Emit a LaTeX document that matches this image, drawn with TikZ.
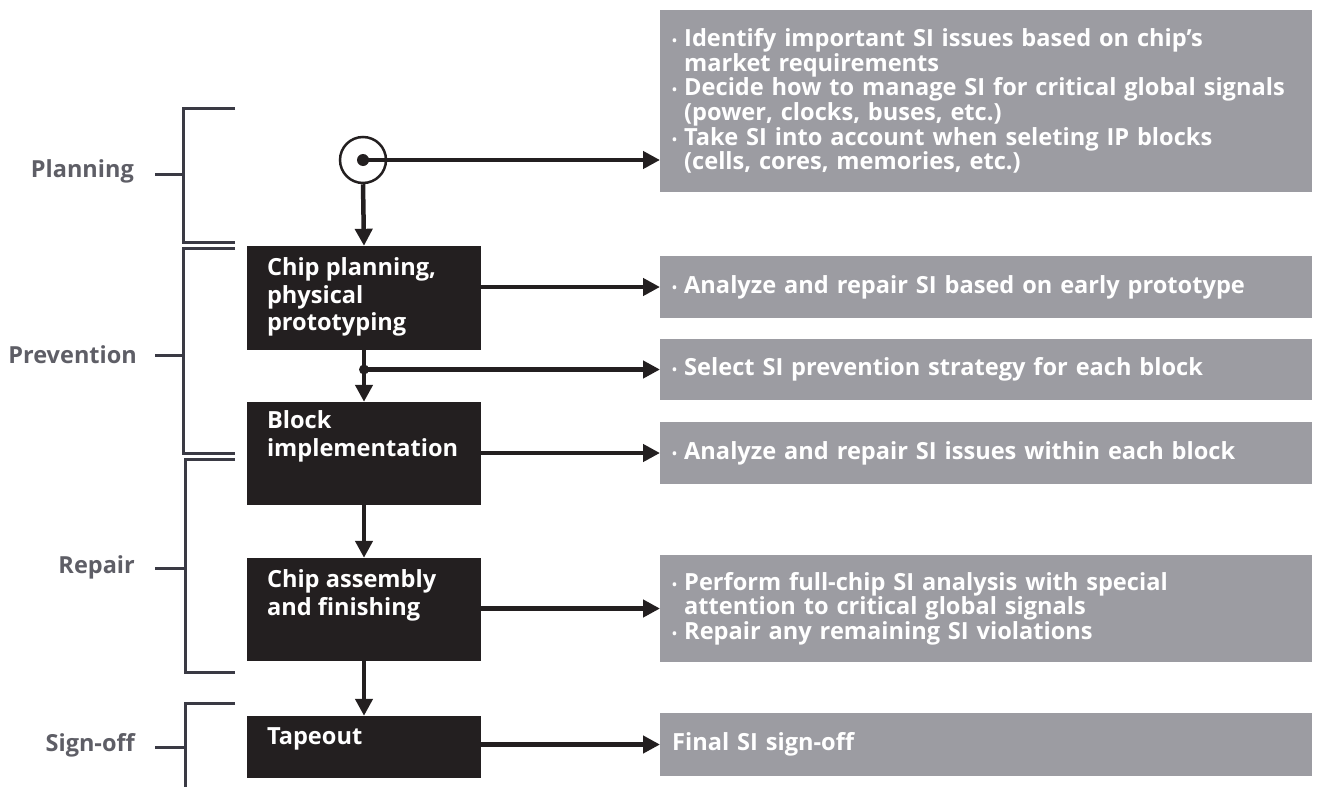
\documentclass[tikz,border=0pt]{standalone}
\usepackage{fontspec}
\setmainfont{Open Sans}
\usetikzlibrary{arrows.meta,calc}
\definecolor{boxgray}{HTML}{9C9CA2}
\definecolor{boxblack}{HTML}{231F20}
\definecolor{labgray}{HTML}{5E5E66}
\definecolor{linedark}{HTML}{3A3A44}
\newcommand\bul{\makebox[12pt][l]{\fontsize{13}{13}\selectfont\raisebox{1pt}{•}}}
\newcommand\ind{\hspace*{12pt}}
\tikzset{
  graybox/.style={fill=boxgray, draw=none, minimum width=652pt, inner xsep=12pt,
    text width=628pt, align=left, text=white, font=\fontsize{23.6}{24.6}\selectfont\bfseries, anchor=west},
  blackbox/.style={fill=boxblack, draw=none, minimum width=234pt, inner sep=0pt},
  blacktext/.style={text=white, font=\fontsize{23.6}{27.5}\selectfont\bfseries, align=left, anchor=north west, inner sep=0pt},
  arr/.style={draw=boxblack, line width=4.5pt, -{Triangle[length=17pt,width=17pt]}},
  bracketline/.style={draw=linedark, line width=3pt},
  phase/.style={text=labgray, font=\fontsize{23.5}{25}\selectfont\bfseries, anchor=east, inner sep=0pt},
}
\begin{document}
\begin{tikzpicture}[x=1pt,y=-1pt]
\useasboundingbox (0,0) rectangle (1321,787);
% gray boxes
\node[graybox, minimum height=182pt] (g1) at (660,101) {%
\bul Identify important SI issues based on chip's\\\ind market requirements\\
\bul Decide how to manage SI for critical global signals\\\ind (power, clocks, buses, etc.)\\
\bul Take SI into account when seleting IP blocks\\\ind (cells, cores, memories, etc.)};
\node[graybox, minimum height=62pt] (g2) at (660,287) {\bul Analyze and repair SI based on early prototype};
\node[graybox, minimum height=61pt] (g3) at (660,369.5) {\bul Select SI prevention strategy for each block};
\node[graybox, minimum height=62pt] (g4) at (660,453) {\bul Analyze and repair SI issues within each block};
\node[graybox, minimum height=107pt] (g5) at (660,608.5) {%
\bul Perform full-chip SI analysis with special\\\ind attention to critical global signals\\
\bul Repair any remaining SI violations};
\node[graybox, minimum height=63pt] (g6) at (660,744.5) {Final SI sign-off};
% black boxes
\node[blackbox, minimum height=104pt] (b1) at (364,298) {};
\node[blackbox, minimum height=103pt] (b2) at (364,453.5) {};
\node[blackbox, minimum height=103pt] (b3) at (364,609.5) {};
\node[blackbox, minimum height=62pt] (b4) at (364,747) {};
\node[blacktext] (t1) at ($(b1.north west)+(20,12)$) {Chip planning,\\physical\\prototyping};
\node[blacktext] (t2) at ($(b2.north west)+(20,9)$) {Block\\implementation};
\node[blacktext] (t3) at ($(b3.north west)+(20,12)$) {Chip assembly\\and finishing};
\node[blacktext] (t4) at ($(b4.north west)+(20,12)$) {Tapeout};
% start circle
\node[circle, draw=boxblack, line width=2.5pt, minimum size=46pt, inner sep=0pt] (c) at (363,160) {};
\node[circle, fill=boxblack, minimum size=12pt, inner sep=0pt] (cd) at (c.center) {};
% connectors
\draw[arr] (cd.center) -- (cd.center -| g1.west);
\draw[arr] (c.south) -- (b1.north);
\draw[arr] (b1.east |- g2.west) -- (g2.west);
\coordinate (j) at (b1.south |- g3.west);
\node[circle, fill=boxblack, minimum size=10pt, inner sep=0pt] (jd) at (j) {};
\draw[arr] (b1.south) -- (b2.north);
\draw[arr] (jd.center) -- (g3.west);
\draw[arr] (b2.east |- g4.west) -- (g4.west);
\draw[arr] (b2.south) -- (b3.north);
\draw[arr] (b3.east |- g5.west) -- (g5.west);
\draw[arr] (b3.south) -- (b4.north);
\draw[arr] (b4.east |- g6.west) -- (g6.west);
% brackets
\draw[bracketline] (235,108) -- (183,108) -- (183,242) -- (235,242);
\draw[bracketline] (235,248) -- (183,248) -- (183,453) -- (235,453);
\draw[bracketline] (235,459) -- (185,459) -- (185,672) -- (235,672);
\draw[bracketline] (235,703) -- (185,703) -- (185,787);
\node[phase] (p1) at (134,171) {Planning};
\node[phase] (p2) at (137,355) {Prevention};
\node[phase] (p3) at (135,567) {Repair};
\node[phase] (p4) at (135,745) {Sign-off};
\draw[bracketline] (155,174) -- (183,174);
\draw[bracketline] (155,355) -- (183,355);
\draw[bracketline] (155,568) -- (185,568);
\draw[bracketline] (155,747) -- (185,747);
\end{tikzpicture}
\end{document}
